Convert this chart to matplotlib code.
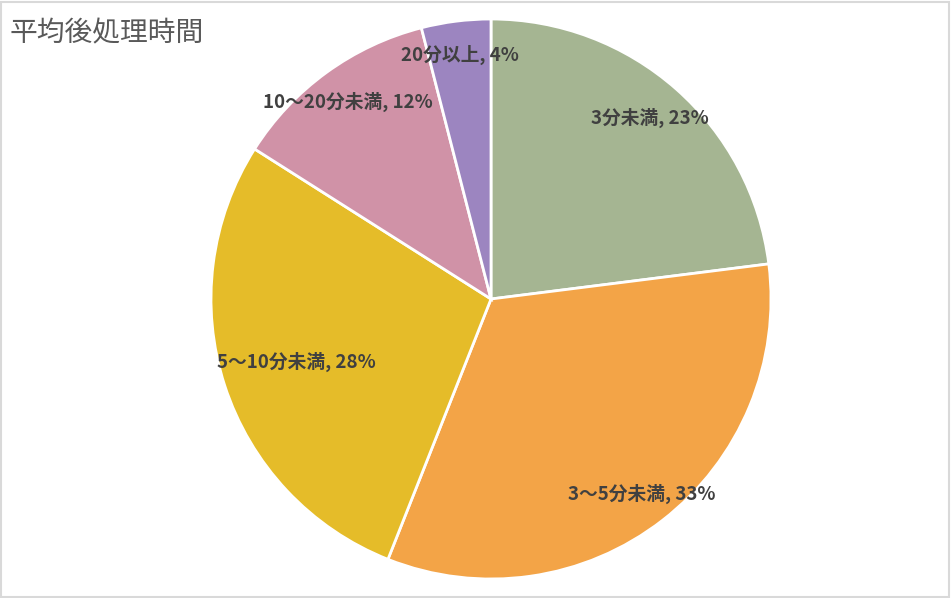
import matplotlib.pyplot as plt
import numpy as np

plt.rcParams['font.family'] = ['Noto Sans CJK JP', 'DejaVu Sans']

title = '平均後処理時間'
categories = ['3分未満', '3～5分未満', '5～10分未満', '10～20分未満', '20分以上']
shares = [23, 33, 28, 12, 4]
colors = ['#A5B592', '#F3A447', '#E5BC29', '#D092A7', '#9C85C0']
label_dist = [0.86, 0.88, 0.73, 0.87, 0.88]

fig = plt.figure(figsize=(9.51, 5.98), dpi=100)
ax = fig.add_axes([0, 0, 1, 1])

cx, cy, r = 491, 299, 280
wedges, _ = ax.pie(shares, colors=colors, startangle=90, counterclock=False,
                   center=(cx, cy), radius=r, frame=True,
                   wedgeprops=dict(edgecolor='white', linewidth=2))
ax.set_xlim(0, 951)
ax.set_ylim(0, 598)
ax.set_aspect('equal')
ax.axis('off')

for w, cat, val, d in zip(wedges, categories, shares, label_dist):
    ang = np.deg2rad((w.theta1 + w.theta2) / 2)
    x = cx + d * r * np.cos(ang)
    y = cy + d * r * np.sin(ang)
    ax.text(x, y, f'{cat}, {val}%', ha='center', va='center',
            fontsize=13.5, fontweight='bold', color='#404040')

fig.text(10 / 951, 1 - 33 / 598, title, fontsize=20, color='#595959',
         ha='left', va='center')

# outer border
fig.patches.append(plt.Rectangle((0.001, 0.002), 0.997, 0.995, transform=fig.transFigure,
                                 fill=False, edgecolor='#D9D9D9', linewidth=1.5))

fig.savefig('out.png', dpi=100)
